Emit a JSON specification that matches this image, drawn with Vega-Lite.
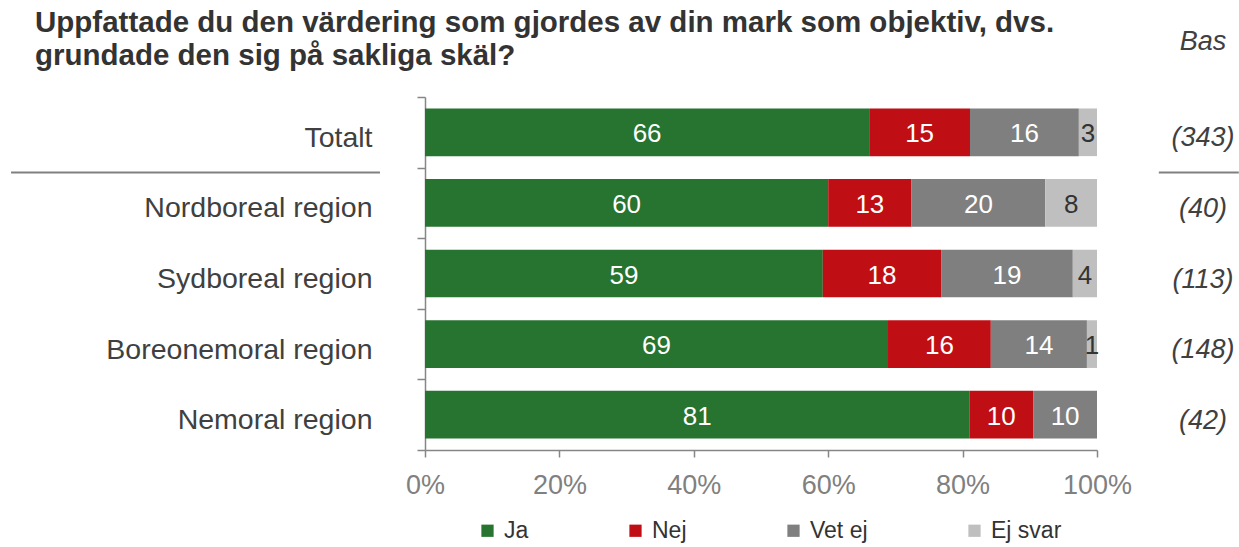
{
  "$schema": "https://vega.github.io/schema/vega-lite/v6.json",
  "width": 672,
  "height": 353,
  "autosize": "none",
  "padding": {"left": 425, "top": 97, "right": 142, "bottom": 97},
  "background": "white",
  "config": {
    "font": "Liberation Sans",
    "view": {"stroke": null}
  },
  "title": {
    "text": ["Uppfattade du den värdering som gjordes av din mark som objektiv, dvs.", "grundade den sig på sakliga skäl?"],
    "anchor": "start",
    "frame": "group",
    "dx": -390,
    "offset": -43,
    "fontSize": 29.5,
    "fontWeight": "bold",
    "color": "#333333",
    "lineHeight": 33
  },
  "datasets": {
    "answers": [
      {"region": "Totalt", "answer": "Ja", "order": 1, "value": 66.1, "label": "66"},
      {"region": "Totalt", "answer": "Nej", "order": 2, "value": 15.0, "label": "15"},
      {"region": "Totalt", "answer": "Vet ej", "order": 3, "value": 16.2, "label": "16"},
      {"region": "Totalt", "answer": "Ej svar", "order": 4, "value": 2.7, "label": "3"},
      {"region": "Nordboreal region", "answer": "Ja", "order": 1, "value": 60.0, "label": "60"},
      {"region": "Nordboreal region", "answer": "Nej", "order": 2, "value": 12.4, "label": "13"},
      {"region": "Nordboreal region", "answer": "Vet ej", "order": 3, "value": 19.9, "label": "20"},
      {"region": "Nordboreal region", "answer": "Ej svar", "order": 4, "value": 7.7, "label": "8"},
      {"region": "Sydboreal region", "answer": "Ja", "order": 1, "value": 59.2, "label": "59"},
      {"region": "Sydboreal region", "answer": "Nej", "order": 2, "value": 17.6, "label": "18"},
      {"region": "Sydboreal region", "answer": "Vet ej", "order": 3, "value": 19.6, "label": "19"},
      {"region": "Sydboreal region", "answer": "Ej svar", "order": 4, "value": 3.6, "label": "4"},
      {"region": "Boreonemoral region", "answer": "Ja", "order": 1, "value": 68.9, "label": "69"},
      {"region": "Boreonemoral region", "answer": "Nej", "order": 2, "value": 15.3, "label": "16"},
      {"region": "Boreonemoral region", "answer": "Vet ej", "order": 3, "value": 14.3, "label": "14"},
      {"region": "Boreonemoral region", "answer": "Ej svar", "order": 4, "value": 1.5, "label": "1"},
      {"region": "Nemoral region", "answer": "Ja", "order": 1, "value": 81.0, "label": "81"},
      {"region": "Nemoral region", "answer": "Nej", "order": 2, "value": 9.5, "label": "10"},
      {"region": "Nemoral region", "answer": "Vet ej", "order": 3, "value": 9.5, "label": "10"}
    ],
    "bas": [
      {"region": "Totalt", "n": 343},
      {"region": "Nordboreal region", "n": 40},
      {"region": "Sydboreal region", "n": 113},
      {"region": "Boreonemoral region", "n": 148},
      {"region": "Nemoral region", "n": 42}
    ]
  },
  "layer": [
    {
      "data": {"name": "answers"},
      "transform": [
        {"stack": "value", "groupby": ["region"], "sort": [{"field": "order", "order": "ascending"}], "offset": "normalize", "as": ["x0", "x1"]}
      ],
      "mark": {"type": "bar", "height": {"band": 0.675}},
      "encoding": {
        "y": {
          "field": "region",
          "type": "nominal",
          "sort": ["Totalt", "Nordboreal region", "Sydboreal region", "Boreonemoral region", "Nemoral region"],
          "scale": {"paddingInner": 0, "paddingOuter": 0},
          "axis": {
            "title": null,
            "tickBand": "extent",
            "domainColor": "#868686",
            "domainWidth": 1.5,
            "tickColor": "#868686",
            "tickWidth": 1.5,
            "tickSize": 8,
            "labelFontSize": 28.5,
            "labelColor": "#404040",
            "labelPadding": 45,
            "labelOffset": 5,
            "labelLimit": 400
          }
        },
        "x": {
          "field": "x0",
          "type": "quantitative",
          "scale": {"domain": [0, 1], "nice": false},
          "axis": {
            "title": null,
            "format": ".0%",
            "values": [0, 0.2, 0.4, 0.6, 0.8, 1],
            "grid": false,
            "domainColor": "#868686",
            "domainWidth": 1.5,
            "tickColor": "#868686",
            "tickWidth": 1.5,
            "tickSize": 7,
            "labelFontSize": 27,
            "labelColor": "#808080",
            "labelPadding": 15,
            "labelFlush": false
          }
        },
        "x2": {"field": "x1"},
        "color": {
          "field": "answer",
          "type": "nominal",
          "sort": ["Ja", "Nej", "Vet ej", "Ej svar"],
          "scale": {"domain": ["Ja", "Nej", "Vet ej", "Ej svar"], "range": ["#277330", "#C00F14", "#7F7F7F", "#BFBFBF"]},
          "legend": {
            "title": null,
            "orient": "none",
            "legendX": 51,
            "legendY": 422,
            "direction": "horizontal",
            "symbolType": "square",
            "symbolSize": 150,
            "symbolStrokeWidth": 0,
            "labelFontSize": 23,
            "labelColor": "#333333",
            "labelOffset": 5,
            "columnPadding": 95
          }
        }
      }
    },
    {
      "data": {"name": "answers"},
      "transform": [
        {"stack": "value", "groupby": ["region"], "sort": [{"field": "order", "order": "ascending"}], "offset": "normalize", "as": ["x0", "x1"]},
        {"calculate": "(datum.x0 + datum.x1) / 2", "as": "mid"}
      ],
      "mark": {"type": "text", "fontSize": 26, "baseline": "middle", "align": "center", "dy": 2},
      "encoding": {
        "y": {"field": "region", "type": "nominal", "sort": ["Totalt", "Nordboreal region", "Sydboreal region", "Boreonemoral region", "Nemoral region"]},
        "x": {"field": "mid", "type": "quantitative"},
        "text": {"field": "label"},
        "color": {"condition": {"test": "datum.answer === 'Ej svar'", "value": "#333333"}, "value": "white"}
      }
    },
    {
      "data": {"name": "bas"},
      "transform": [{"calculate": "'(' + datum.n + ')'", "as": "bas_label"}],
      "mark": {"type": "text", "fontSize": 27, "fontStyle": "italic", "color": "#404040", "align": "center", "baseline": "middle", "dy": 6},
      "encoding": {
        "y": {"field": "region", "type": "nominal", "sort": ["Totalt", "Nordboreal region", "Sydboreal region", "Boreonemoral region", "Nemoral region"]},
        "x": {"datum": 1.1577, "type": "quantitative"},
        "text": {"field": "bas_label"}
      }
    },
    {
      "data": {"values": [{}]},
      "mark": {"type": "text", "text": "Bas", "fontSize": 27, "fontStyle": "italic", "color": "#404040", "align": "center", "baseline": "middle", "dy": -90},
      "encoding": {
        "y": {"datum": "Totalt", "type": "nominal"},
        "x": {"datum": 1.1577, "type": "quantitative"}
      }
    },
    {
      "data": {"values": [{}]},
      "mark": {"type": "rule", "color": "#808080", "strokeWidth": 2},
      "encoding": {
        "y": {"datum": "Totalt", "type": "nominal", "bandPosition": 1.07},
        "x": {"datum": -0.616, "type": "quantitative"},
        "x2": {"datum": -0.067}
      }
    },
    {
      "data": {"values": [{}]},
      "mark": {"type": "rule", "color": "#808080", "strokeWidth": 2},
      "encoding": {
        "y": {"datum": "Totalt", "type": "nominal", "bandPosition": 1.07},
        "x": {"datum": 1.092, "type": "quantitative"},
        "x2": {"datum": 1.211}
      }
    }
  ]
}
